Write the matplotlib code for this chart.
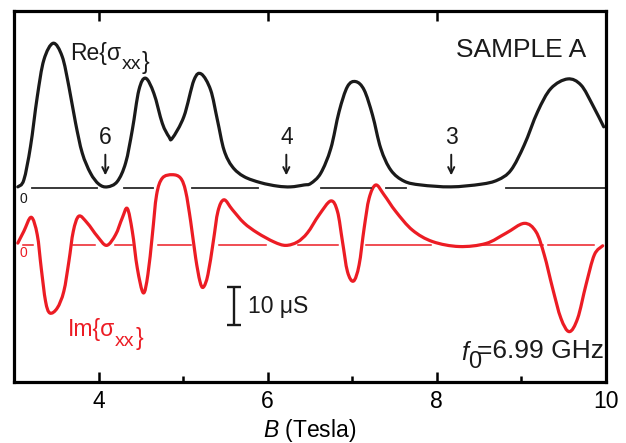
import numpy as np
import matplotlib
matplotlib.use("Agg")
import matplotlib.pyplot as plt
from matplotlib.path import Path
from matplotlib.patches import PathPatch

plt.rcParams['font.family'] = ['Liberation Sans', 'DejaVu Sans']
plt.rcParams['mathtext.fontset'] = 'custom'
plt.rcParams['mathtext.rm'] = 'Liberation Sans'
plt.rcParams['mathtext.it'] = 'Liberation Sans:italic'

# field (Tesla) and Re{sigma_xx} (uS), black trace
B_re = [3.045, 3.116, 3.195, 3.275, 3.353, 3.464, 3.570, 3.649, 3.728, 3.807,
        3.905, 4.004, 4.103, 4.221, 4.320, 4.399, 4.477, 4.556, 4.654, 4.754,
        4.832, 4.872, 5.009, 5.128, 5.215, 5.325, 5.405, 5.483, 5.582, 5.720,
        5.917, 6.115, 6.272, 6.430, 6.509, 6.627, 6.746, 6.844, 6.943, 7.041,
        7.140, 7.239, 7.337, 7.456, 7.613, 7.811, 8.166, 8.521, 8.718, 8.876,
        9.033, 9.192, 9.349, 9.547, 9.704, 9.843, 9.973]
re_sxx = [0.3, 2.1, 10.9, 24.0, 33.7, 38.1, 34.6, 26.7, 17.1, 9.2,
          3.9, 1.0, 0.3, 1.7, 6.6, 15.3, 25.8, 28.9, 24.9, 17.0,
          13.5, 13.1, 18.8, 28.4, 30.0, 25.8, 17.9, 10.0, 5.6, 3.0,
          1.4, 0.5, 0.3, 0.8, 1.2, 3.9, 10.4, 20.1, 26.7, 28.0,
          25.8, 19.2, 10.4, 4.7, 1.8, 0.8, 0.3, 1.0, 2.1, 4.7,
          11.3, 20.1, 26.2, 28.7, 27.1, 21.8, 16.1]

# field (Tesla) and Im{sigma_xx} (uS), red trace
B_im = [3.045, 3.116, 3.204, 3.275, 3.322, 3.373, 3.424, 3.511, 3.589, 3.649,
        3.701, 3.767, 3.866, 3.985, 4.095, 4.201, 4.280, 4.340, 4.399, 4.458,
        4.529, 4.583, 4.636, 4.686, 4.754, 4.872, 4.970, 5.030, 5.089, 5.148,
        5.199, 5.239, 5.293, 5.357, 5.412, 5.483, 5.582, 5.720, 5.878, 6.075,
        6.213, 6.351, 6.470, 6.607, 6.746, 6.825, 6.884, 6.943, 7.014, 7.080,
        7.140, 7.199, 7.278, 7.376, 7.515, 7.712, 7.949, 8.264, 8.580, 8.817,
        9.033, 9.172, 9.270, 9.369, 9.467, 9.566, 9.665, 9.763, 9.862, 9.961]
im_sxx = [0.5, 3.6, 7.3, 2.7, -6.1, -14.8, -17.9, -16.6, -12.2, -4.3,
          3.6, 7.6, 5.8, 2.3, -0.1, 2.7, 7.1, 9.6, 3.6, -6.1,
          -12.6, -7.8, 2.7, 13.2, 17.6, 18.5, 17.6, 14.1, 6.2, -3.4,
          -9.6, -11.1, -7.8, 1.0, 8.9, 11.9, 9.3, 5.8, 3.2, 0.8,
          -0.1, 0.8, 3.2, 7.9, 11.6, 8.8, 0.9, -7.0, -9.5, -5.3,
          4.4, 12.3, 15.8, 13.2, 8.8, 3.9, 0.9, -0.4, 0.4, 3.1,
          5.7, 3.5, -2.6, -11.4, -19.3, -22.8, -19.3, -10.5, -2.6, -0.2]

re_offset = 15.0   # vertical shift of the Re trace (uS)

# pieces of the zero lines left visible between the traces
re_zero = [(3.21, 3.98), (4.30, 4.64), (5.11, 5.89), (6.63, 7.22),
           (7.40, 7.63), (8.82, 10.0)]
im_zero = [(3.11, 3.22), (3.70, 3.96), (4.20, 4.40), (4.70, 5.09),
           (5.42, 5.98), (6.36, 6.83), (7.16, 7.93), (8.54, 9.25),
           (9.31, 9.86)]

# filling factors marked on the Re trace
nu_B = [4.08, 6.22, 8.17]
nu_lbl = ['6', '4', '3']

red = '#ec1c24'
blk = '#1a1a1a'
fs = 16.5


def smooth_path(x, y):
    # Catmull-Rom through the measured points, written as cubic Beziers
    p = np.column_stack([x, y])
    q = np.vstack([p[0], p, p[-1]])
    verts = [p[0]]
    codes = [Path.MOVETO]
    for i in range(1, len(q) - 2):
        c1 = q[i] + (q[i+1] - q[i-1]) / 6.0
        c2 = q[i+1] - (q[i+2] - q[i]) / 6.0
        verts += [c1, c2, q[i+1]]
        codes += [Path.CURVE4] * 3
    return Path(verts, codes)


fig = plt.figure(figsize=(6.26, 4.43), dpi=100)
ax = fig.add_axes([14/626, 1-382/443, 592/626, 371/443])

for a, b in re_zero:
    ax.plot([a, b], [re_offset, re_offset], color='#2a2a2a', lw=1.3)
for a, b in im_zero:
    ax.plot([a, b], [0, 0], color=red, lw=1.1)

ax.add_patch(PathPatch(smooth_path(B_re, np.array(re_sxx) + re_offset),
                       fill=False, edgecolor=blk, lw=2.3,
                       joinstyle='round', capstyle='round'))
ax.add_patch(PathPatch(smooth_path(B_im, im_sxx), fill=False,
                       edgecolor=red, lw=2.3, joinstyle='round',
                       capstyle='round'))

for b, t in zip(nu_B, nu_lbl):
    ax.annotate('', xy=(b, re_offset + 2.6), xytext=(b, re_offset + 9.5),
                arrowprops=dict(arrowstyle='->', color=blk, lw=1.4,
                                mutation_scale=11))
    ax.text(b, re_offset + 13.3, t, fontsize=fs, ha='center', va='center',
            color=blk)

ax.text(3.109, re_offset - 2.9, '0', fontsize=10, ha='center', va='center',
        color=blk)
ax.text(3.109, -2.1, '0', fontsize=10, ha='center', va='center', color=red)


def sigma_label(x, y, head, color):
    # "Re{sigma" with a near full size "xx" dropped below, then "}"
    t1 = ax.text(x, y, head + u'{\u03c3', fontsize=fs, ha='left',
                 va='baseline', color=color)
    t2 = ax.annotate('xx', xy=(1, 0), xycoords=t1, xytext=(0.3, -3.5),
                     textcoords='offset points', fontsize=fs - 2.5,
                     ha='left', va='baseline', color=color)
    ax.annotate('}', xy=(1, 0), xycoords=t2, xytext=(0.3, 3.5),
                textcoords='offset points', fontsize=fs, ha='left',
                va='baseline', color=color)


sigma_label(3.669, 48.8, 'Re', blk)
sigma_label(3.633, -23.9, 'Im', red)

ax.text(9.763, 51.3, 'SAMPLE A', fontsize=19, ha='right', va='center',
        color=blk)

# f0 label: italic f, a dropped 0 running under the "="
ax.text(9.976, -29.7, '=6.99 GHz', fontsize=19, ha='right',
        va='baseline', color=blk)
ax.text(8.370, -30.3, 'f', fontsize=18, style='italic', ha='right',
        va='baseline', color=blk)
ax.text(8.367, -32.4, '0', fontsize=17, ha='left', va='baseline',
        color=blk)

# 10 uS scale bar
ax.errorbar([5.597], [-16.05], yerr=[5.0], color=blk, lw=1.7, capsize=5,
            capthick=1.7)
ax.text(5.763, -16.3, u'10 \u03bcS', fontsize=fs, ha='left', va='center',
        color=blk)

ax.set_xlim(3, 10)
ax.set_ylim(-36.05, 61.58)
ax.set_xticks([4, 6, 8, 10])
ax.set_xticks([5, 7, 9], minor=True)
ax.set_yticks([])
ax.tick_params(axis='x', which='major', direction='in', length=7, width=1.8,
               top=True, labelsize=fs, pad=6)
ax.tick_params(axis='x', which='minor', direction='in', length=4.5,
               width=1.8, top=False)
for s in ax.spines.values():
    s.set_linewidth(2.3)
ax.set_xlabel(r'$B$ (Tesla)', fontsize=fs, labelpad=3)

fig.savefig('out.png', dpi=100)
